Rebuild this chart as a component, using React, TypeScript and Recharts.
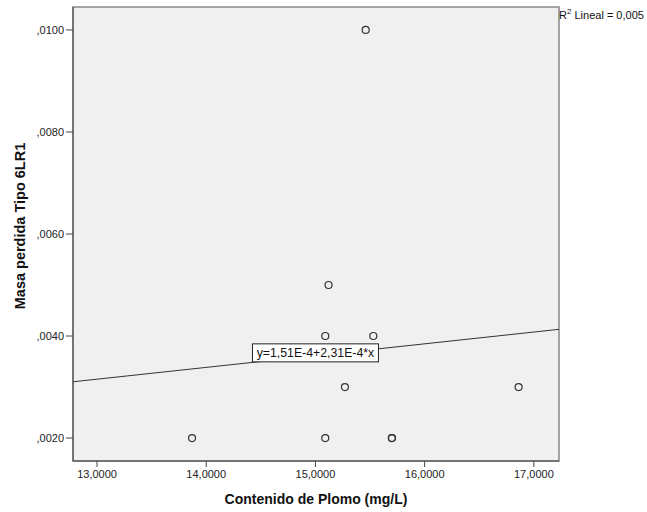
import {
  ScatterChart,
  Scatter,
  XAxis,
  YAxis,
  ReferenceArea,
  ReferenceLine,
  ReferenceDot,
} from "recharts";

// Contenido de Plomo (mg/L)
const plomo = [15.46, 15.12, 15.09, 15.53, 15.27, 16.86, 13.87, 15.09, 15.7, 15.7];
// Masa perdida Tipo 6LR1
const masa = [0.01, 0.005, 0.004, 0.004, 0.003, 0.003, 0.002, 0.002, 0.002, 0.002];

const xTicks = [13, 14, 15, 16, 17];
const yTicks = [0.002, 0.004, 0.006, 0.008, 0.01];
const xDomain = [12.78, 17.23];
const yDomain = [0.00155, 0.01045];

// recta de ajuste lineal
const intercept = 1.51e-4;
const slope = 2.31e-4;
const fitLabel = "y=1,51E-4+2,31E-4*x";
const r2Label = "0,005";

const FONT = "'Liberation Sans', Arial, sans-serif";

const points = plomo.map((x, i) => ({ x, y: masa[i] }));
const fit = (x: number) => intercept + slope * x;

function Circle(props: any) {
  const { cx, cy } = props;
  return <circle cx={cx} cy={cy} r={3.5} fill="none" stroke="#333" strokeWidth={1.2} />;
}

function FitBox(props: any) {
  const { cx, cy } = props;
  const w = 126;
  const h = 18;
  return (
    <g>
      <rect x={cx - w / 2} y={cy - h / 2} width={w} height={h} fill="#fff" stroke="#222" strokeWidth={1} />
      <text
        x={cx}
        y={cy + 4.5}
        textAnchor="middle"
        fontSize={12.3}
        fontFamily={FONT}
        fill="#111"
      >
        {fitLabel}
      </text>
    </g>
  );
}

function YLabel(props: any) {
  const vb = props.viewBox || { x: 0, y: 7, width: 73, height: 454 };
  const x = vb.x + 20;
  const y = vb.y + vb.height / 2 - 8;
  return (
    <text
      x={x}
      y={y}
      transform={`rotate(-90 ${x} ${y})`}
      textAnchor="middle"
      dominantBaseline="central"
      fontSize={14.5}
      fontWeight="bold"
      fontFamily={FONT}
      fill="#111"
    >
      Masa perdida Tipo 6LR1
    </text>
  );
}

export default function App() {
  return (
    <div style={{ position: "relative", width: 647, height: 512, background: "#fff" }}>
      <style>{"body{margin:0}"}</style>
      <ScatterChart width={647} height={512} margin={{ top: 7, right: 88, bottom: 0, left: 0 }}>
        <ReferenceArea
          x1={xDomain[0]}
          x2={xDomain[1]}
          y1={yDomain[0]}
          y2={yDomain[1]}
          fill="#f0f0f0"
          fillOpacity={1}
          stroke="#888"
          strokeWidth={1.5}
        />
        <XAxis
          type="number"
          dataKey="x"
          domain={xDomain}
          ticks={xTicks}
          allowDataOverflow
          height={51}
          tickSize={6}
          tickMargin={3}
          stroke="#444"
          tick={{ fontSize: 11, fontFamily: FONT, fill: "#222" }}
          tickFormatter={(v: number) => v.toFixed(4).replace(".", ",")}
          label={{
            value: "Contenido de Plomo (mg/L)",
            position: "insideBottom",
            offset: 8,
            style: { fontSize: 14, fontWeight: "bold", fontFamily: FONT, fill: "#111" },
          }}
        />
        <YAxis
          type="number"
          dataKey="y"
          domain={yDomain}
          ticks={yTicks}
          allowDataOverflow
          width={73}
          tickSize={7}
          tickMargin={2}
          stroke="#444"
          tick={{ fontSize: 11, fontFamily: FONT, fill: "#222" }}
          tickFormatter={(v: number) => v.toFixed(4).replace("0.", ",")}
          label={YLabel}
        />
        <ReferenceLine
          segment={[
            { x: xDomain[0], y: fit(xDomain[0]) },
            { x: xDomain[1], y: fit(xDomain[1]) },
          ]}
          stroke="#333"
          strokeWidth={1}
        />
        <Scatter data={points} shape={Circle} isAnimationActive={false} />
        <ReferenceDot x={15.0} y={0.00367} shape={FitBox} />
      </ScatterChart>
      <div
        style={{
          position: "absolute",
          left: 559,
          top: 7,
          fontSize: 11,
          fontFamily: FONT,
          color: "#111",
          whiteSpace: "nowrap",
        }}
      >
        R<sup style={{ fontSize: 8 }}>2</sup> Lineal = {r2Label}
      </div>
    </div>
  );
}
